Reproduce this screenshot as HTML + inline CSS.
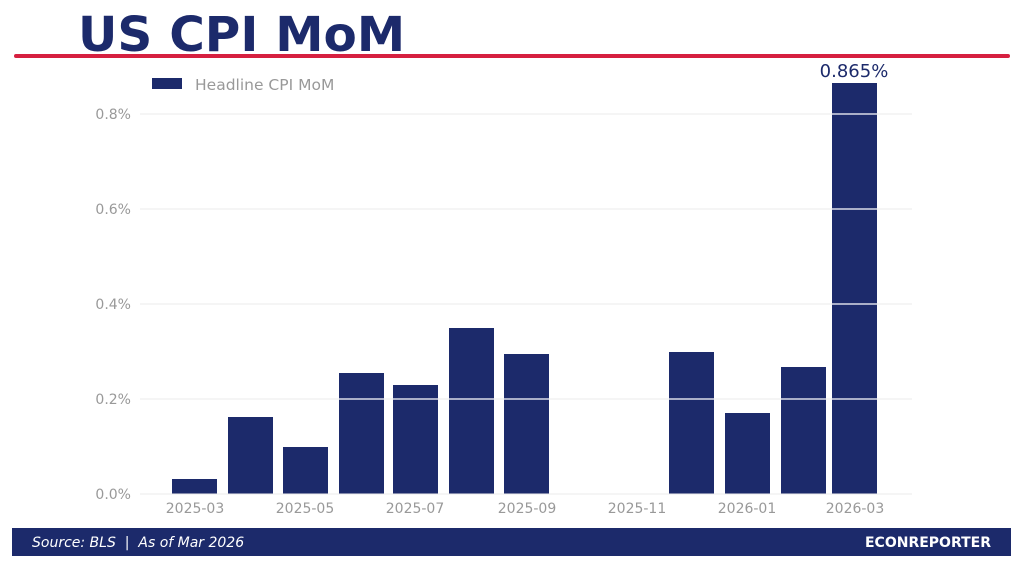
<!DOCTYPE html>
<html><head><meta charset="utf-8"><style>
body{margin:0;background:#fff;width:1024px;height:569px;overflow:hidden;font-family:"Liberation Sans","DejaVu Sans",sans-serif;}
</style></head><body>
<svg width="1024" height="569" xmlns="http://www.w3.org/2000/svg" style="position:absolute;left:0;top:0">
<text x="78" y="51" font-family="DejaVu Sans, Liberation Sans, sans-serif" font-weight="bold" font-size="48.5" fill="#1c2a6b">US CPI MoM</text>
<line x1="16" y1="56" x2="1008" y2="56" stroke="#d62040" stroke-width="4" stroke-linecap="round"/>
<g fill="#1c2a6b">
<rect x="172" y="479" width="45" height="15"/>
<rect x="228" y="417" width="45" height="77"/>
<rect x="283" y="447" width="45" height="47"/>
<rect x="339" y="373" width="45" height="121"/>
<rect x="393" y="385" width="45" height="109"/>
<rect x="449" y="328" width="45" height="166"/>
<rect x="504" y="354" width="45" height="140"/>
<rect x="669" y="352" width="45" height="142"/>
<rect x="725" y="413" width="45" height="81"/>
<rect x="781" y="367" width="45" height="127"/>
<rect x="832" y="83" width="45" height="411"/>
</g>
<g stroke="#ebebeb" stroke-width="1">
<line x1="140" y1="114" x2="912" y2="114"/>
<line x1="140" y1="209" x2="912" y2="209"/>
<line x1="140" y1="304" x2="912" y2="304"/>
<line x1="140" y1="399" x2="912" y2="399"/>
<line x1="140" y1="494" x2="912" y2="494"/>
</g>
<g stroke="#ffffff" stroke-width="1.2">
<line x1="832" y1="114" x2="877" y2="114"/>
<line x1="832" y1="209" x2="877" y2="209"/>
<line x1="832" y1="304" x2="877" y2="304"/>
<line x1="339" y1="399" x2="384" y2="399"/><line x1="393" y1="399" x2="438" y2="399"/>
<line x1="449" y1="399" x2="494" y2="399"/><line x1="504" y1="399" x2="549" y2="399"/>
<line x1="669" y1="399" x2="714" y2="399"/><line x1="781" y1="399" x2="826" y2="399"/>
<line x1="832" y1="399" x2="877" y2="399"/>
</g>
<g font-family="DejaVu Sans, sans-serif" font-size="14" fill="#999" text-anchor="end">
<text x="131" y="119">0.8%</text><text x="131" y="214">0.6%</text><text x="131" y="309">0.4%</text><text x="131" y="404">0.2%</text><text x="131" y="499">0.0%</text>
</g>
<g font-family="DejaVu Sans, sans-serif" font-size="14" fill="#999" text-anchor="middle">
<text x="195" y="513">2025-03</text><text x="305" y="513">2025-05</text><text x="415" y="513">2025-07</text><text x="527" y="513">2025-09</text><text x="637" y="513">2025-11</text><text x="747" y="513">2026-01</text><text x="855" y="513">2026-03</text>
</g>
<rect x="152" y="78" width="30" height="11" fill="#1c2a6b"/>
<text x="195" y="90" font-family="DejaVu Sans, sans-serif" font-size="15.5" fill="#999">Headline CPI MoM</text>
<text x="854" y="77" text-anchor="middle" font-family="DejaVu Sans, sans-serif" font-size="18" fill="#1c2a6b">0.865%</text>
<rect x="12" y="528" width="999" height="28" fill="#1c2a6b"/>
<text x="32" y="547" xml:space="preserve" font-family="DejaVu Sans, sans-serif" font-style="italic" font-size="14" fill="#fff">Source: BLS  |  As of Mar 2026</text>
<text x="991" y="547" text-anchor="end" font-family="DejaVu Sans, sans-serif" font-weight="bold" font-size="14" fill="#fff">ECONREPORTER</text>
</svg>
</body></html>
